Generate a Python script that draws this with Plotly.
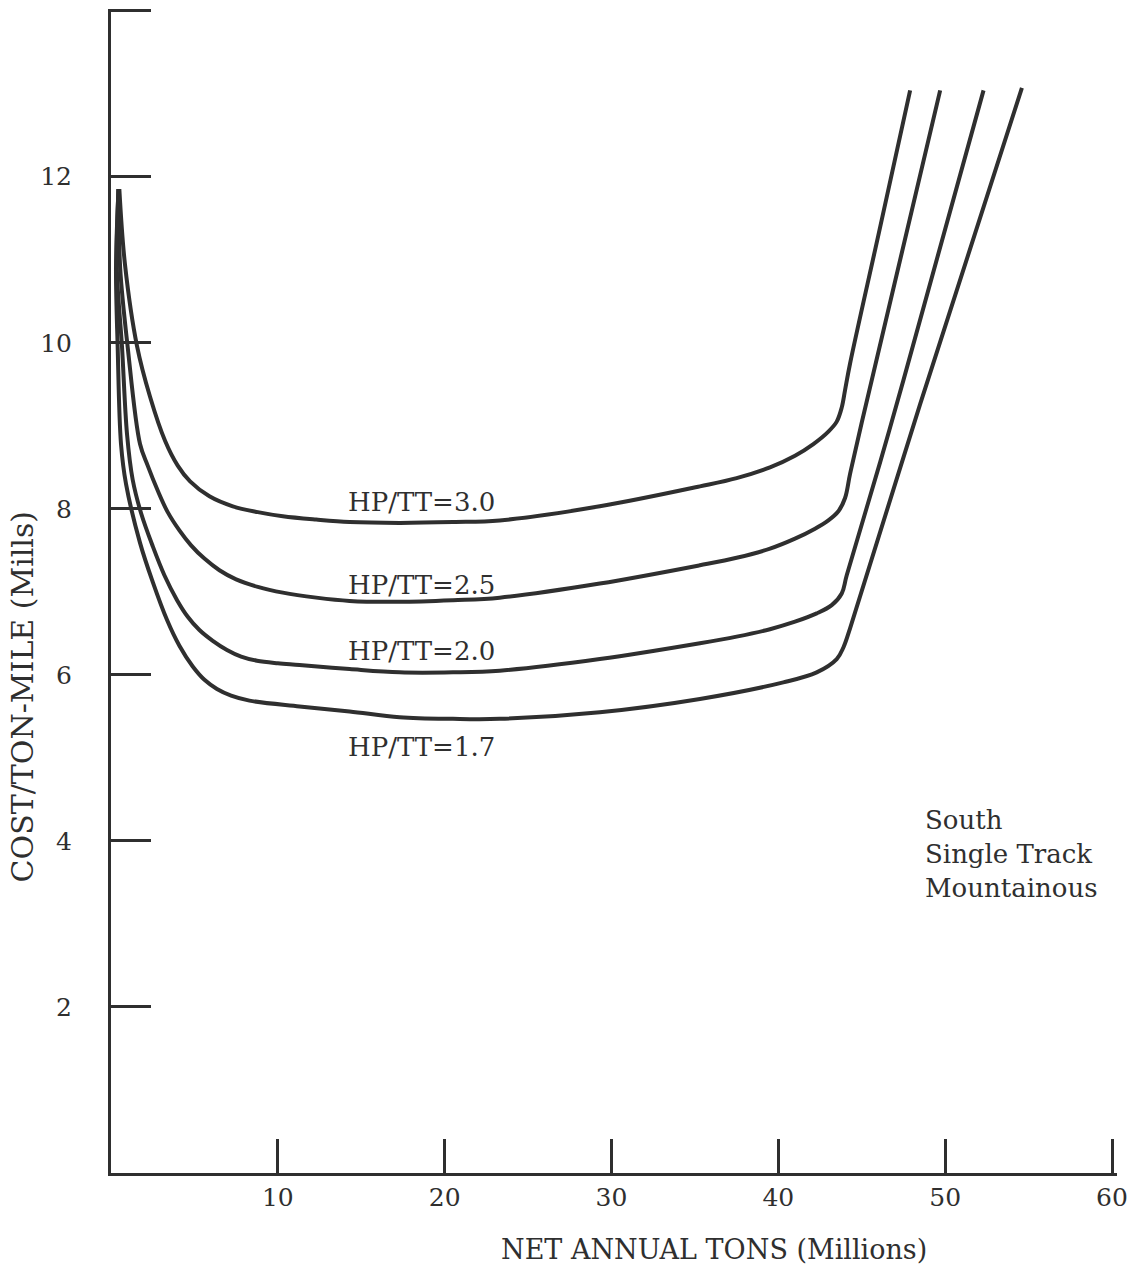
import plotly.graph_objects as go

# ---- data ----
x_hp30 = [0.5, 0.84, 1.56, 2.34, 3.24, 4.0, 4.74, 5.9, 7.3, 8.8, 10.3, 12.3, 14.3, 17.3, 20.5, 23.3, 29.3, 35.3, 37.5, 39.5, 41.0, 42.1, 43.0, 43.5, 43.8, 44.0, 44.3, 46.0, 47.9]
y_hp30 = [11.85, 10.94, 9.96, 9.35, 8.82, 8.52, 8.33, 8.15, 8.03, 7.96, 7.91, 7.87, 7.84, 7.83, 7.84, 7.86, 8.03, 8.27, 8.37, 8.5, 8.64, 8.78, 8.93, 9.05, 9.22, 9.43, 9.75, 11.3, 13.04]

x_hp25 = [0.45, 0.55, 1.0, 1.74, 2.2, 2.8, 3.4, 4.1, 4.8, 5.6, 6.5, 7.5, 8.8, 10.3, 12.3, 14.3, 17.3, 20.5, 23.3, 29.3, 35.3, 37.5, 39.5, 41.0, 42.2, 43.0, 43.6, 44.0, 44.3, 45.0, 49.7]
y_hp25 = [11.85, 10.9, 9.95, 8.78, 8.52, 8.22, 7.96, 7.74, 7.56, 7.4, 7.26, 7.15, 7.06, 6.99, 6.93, 6.89, 6.88, 6.9, 6.93, 7.1, 7.32, 7.41, 7.52, 7.64, 7.76, 7.86, 7.97, 8.13, 8.42, 9.04, 13.04]

x_hp20 = [0.45, 0.35, 0.66, 0.96, 1.3, 1.8, 2.5, 3.2, 3.96, 4.6, 5.3, 6.1, 6.95, 7.8, 8.75, 10.0, 11.3, 14.3, 17.3, 20.5, 23.3, 29.3, 35.3, 37.5, 39.5, 41.0, 42.3, 43.2, 43.8, 44.1, 46.1, 47.5, 52.3]
y_hp20 = [11.85, 10.9, 9.95, 8.9, 8.35, 7.95, 7.55, 7.2, 6.9, 6.7, 6.54, 6.41, 6.3, 6.22, 6.17, 6.14, 6.12, 6.07, 6.03, 6.03, 6.05, 6.19, 6.38, 6.46, 6.55, 6.64, 6.74, 6.84, 6.98, 7.2, 8.56, 9.55, 13.04]

x_hp17 = [0.45, 0.3, 0.4, 0.6, 0.9, 1.74, 2.5, 3.36, 4.1, 4.9, 5.6, 6.35, 7.2, 8.3, 11.3, 14.3, 17.3, 20.5, 23.3, 29.3, 35.3, 40.3, 42.3, 43.5, 43.9, 44.3, 48.5, 54.6]
y_hp17 = [11.85, 10.9, 9.95, 8.78, 8.3, 7.59, 7.12, 6.66, 6.35, 6.1, 5.94, 5.83, 5.75, 5.69, 5.62, 5.56, 5.49, 5.47, 5.47, 5.55, 5.71, 5.91, 6.03, 6.19, 6.33, 6.56, 9.26, 13.07]

series = [
    ("HP/TT=3.0", x_hp30, y_hp30, 14.1, 8.08),
    ("HP/TT=2.5", x_hp25, y_hp25, 14.1, 7.08),
    ("HP/TT=2.0", x_hp20, y_hp20, 14.1, 6.29),
    ("HP/TT=1.7", x_hp17, y_hp17, 14.1, 5.13),
]

x_ticks = [10, 20, 30, 40, 50, 60]
y_ticks = [2, 4, 6, 8, 10, 12, 14]
y_tick_text = ["2", "4", "6", "8", "10", "12", ""]

x_title = "NET ANNUAL TONS (Millions)"
y_title = "COST/TON-MILE (Mills)"
note_lines = ["South", "Single Track", "Mountainous"]

INK = "#2f2f2f"
FONT = "DejaVu Serif"

fig = go.Figure()
for name, xs, ys, lx, ly in series:
    fig.add_trace(go.Scatter(x=xs, y=ys, mode="lines", name=name,
                             line=dict(color=INK, width=4, shape="spline", smoothing=1.0),
                             showlegend=False, hoverinfo="skip"))
    fig.add_annotation(x=lx, y=ly, text=name, showarrow=False, xanchor="left",
                       yanchor="middle", font=dict(family=FONT, size=26, color=INK))

fig.add_annotation(x=48.7, y=3.84, text="<br>".join(note_lines), showarrow=False,
                   xanchor="left", yanchor="middle", align="left",
                   font=dict(family=FONT, size=26, color=INK))

fig.add_annotation(xref="paper", yref="paper", x=0.599, y=-0.066, text=x_title,
                   showarrow=False, xanchor="center", yanchor="middle",
                   font=dict(family=FONT, size=27, color=INK))
fig.add_annotation(xref="paper", yref="paper", x=-0.088, y=0.409, text=y_title,
                   showarrow=False, xanchor="center", yanchor="middle", textangle=-90,
                   font=dict(family=FONT, size=30, color=INK))

fig.update_layout(
    width=1127, height=1268,
    margin=dict(l=111, r=10, t=9, b=95, autoexpand=False),
    paper_bgcolor="white", plot_bgcolor="white",
    xaxis=dict(range=[0, 60.3], showgrid=False, zeroline=False, showline=True,
               linewidth=3, linecolor=INK, ticks="inside", ticklen=34, tickwidth=2.5,
               tickcolor=INK, tickvals=x_ticks, ticklabelstandoff=0,
               ticklabeloverflow="allow", automargin=False,
               tickfont=dict(family=FONT, size=25, color=INK)),
    yaxis=dict(range=[0, 14.02], showgrid=False, zeroline=False, showline=True,
               linewidth=3, linecolor=INK, ticks="inside", ticklen=40, tickwidth=2.5,
               tickcolor=INK, tickvals=y_ticks, ticktext=y_tick_text,
               ticklabelstandoff=31, automargin=False,
               tickfont=dict(family=FONT, size=25, color=INK)),
)

fig.write_html("out.html")
